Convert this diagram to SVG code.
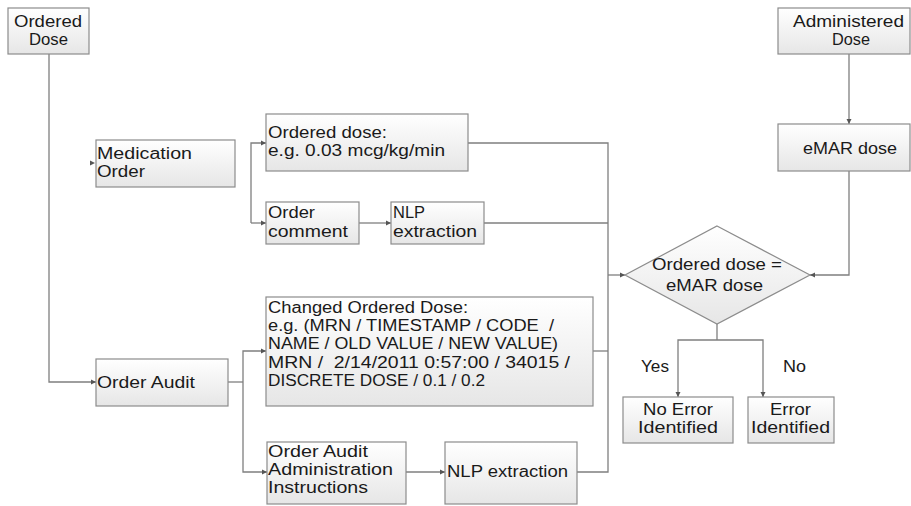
<svg xmlns="http://www.w3.org/2000/svg" width="911" height="506" viewBox="0 0 911 506">
  <style>
    .box { stroke: #8c8c8c; stroke-width: 1.2; fill: url(#boxFill); }
    .line { stroke: #7f7f7f; stroke-width: 1.3; fill: none; }
    .arrow { stroke: #7f7f7f; stroke-width: 1.3; fill: none; marker-end: url(#tip); }
    text { font-family: "Liberation Sans", Arial, sans-serif; font-size: 15.8px; fill: #1a1a1a; }
  </style>
  <defs>
    <linearGradient id="boxFill" x1="0" y1="0" x2="0" y2="1">
      <stop offset="0" stop-color="#ffffff"/>
      <stop offset="1" stop-color="#e6e6e6"/>
    </linearGradient>
    <marker id="tip" markerWidth="6" markerHeight="6" refX="5" refY="3" orient="auto" markerUnits="userSpaceOnUse">
      <path d="M0,0.5 L5,3 L0,5.5 Z" fill="#555555"/>
    </marker>
  </defs>

  <rect width="911" height="506" fill="#ffffff"/>

  <!-- connectors -->
  <g id="connectors">
    <!-- Ordered Dose down to Order Audit -->
    <path class="arrow" d="M49,54 V382 H96"/>
    <!-- stub arrow at Medication Order -->
    <path d="M90,160.5 L95,163 L90,165.5 Z" fill="#555555"/>
    <!-- branch to ordered dose / order comment -->
    <path class="arrow" d="M251,223 V143 H266"/>
    <path class="arrow" d="M251,223 H266"/>
    <path class="arrow" d="M359,223 H391"/>
    <!-- Order Audit branches -->
    <path class="line" d="M228,382 H243"/>
    <path class="arrow" d="M243,382 V351 H266"/>
    <path class="arrow" d="M243,382 V472 H267"/>
    <path class="arrow" d="M406,472 H445"/>
    <!-- collector bus on the right -->
    <path class="line" d="M468,143 H608 V472 H577"/>
    <path class="line" d="M484,223 H608"/>
    <path class="line" d="M593,351 H608"/>
    <path class="arrow" d="M608,275 H625"/>
    <!-- administered dose path -->
    <path class="arrow" d="M849,54 V124"/>
    <path class="arrow" d="M849,171 V275 H810"/>
    <!-- decision outcomes -->
    <path class="line" d="M717,324 V340"/>
    <path class="arrow" d="M717,340 H678 V397"/>
    <path class="arrow" d="M717,340 H763 V397"/>
  </g>

  <g id="ordered-dose-src">
    <rect class="box" x="8" y="8" width="81" height="46"/>
    <text x="14" y="27" textLength="68" lengthAdjust="spacingAndGlyphs">Ordered</text>
    <text x="29" y="45" textLength="39" lengthAdjust="spacingAndGlyphs">Dose</text>
  </g>

  <g id="medication-order">
    <rect class="box" x="96" y="140" width="139" height="47"/>
    <text x="97" y="159" textLength="95" lengthAdjust="spacingAndGlyphs">Medication</text>
    <text x="97" y="177" textLength="48" lengthAdjust="spacingAndGlyphs">Order</text>
  </g>

  <g id="ordered-dose">
    <rect class="box" x="266" y="114" width="202" height="57"/>
    <text x="268" y="138" textLength="119" lengthAdjust="spacingAndGlyphs">Ordered dose:</text>
    <text x="268" y="156" textLength="177" lengthAdjust="spacingAndGlyphs">e.g. 0.03 mcg/kg/min</text>
  </g>

  <g id="order-comment">
    <rect class="box" x="266" y="202" width="93" height="42"/>
    <text x="268" y="218" textLength="47" lengthAdjust="spacingAndGlyphs">Order</text>
    <text x="268" y="237" textLength="80" lengthAdjust="spacingAndGlyphs">comment</text>
  </g>

  <g id="nlp-top">
    <rect class="box" x="391" y="202" width="93" height="42"/>
    <text x="393" y="218" textLength="32" lengthAdjust="spacingAndGlyphs">NLP</text>
    <text x="393" y="237" textLength="84" lengthAdjust="spacingAndGlyphs">extraction</text>
  </g>

  <g id="order-audit">
    <rect class="box" x="96" y="359" width="132" height="47"/>
    <text x="97" y="388" textLength="98" lengthAdjust="spacingAndGlyphs">Order Audit</text>
  </g>

  <g id="changed-dose">
    <rect class="box" x="266" y="297" width="327" height="109"/>
    <text x="268" y="313" textLength="200" lengthAdjust="spacingAndGlyphs">Changed Ordered Dose:</text>
    <text x="268" y="331" textLength="286" lengthAdjust="spacingAndGlyphs" xml:space="preserve">e.g. (MRN / TIMESTAMP / CODE  /</text>
    <text x="268" y="349" textLength="290" lengthAdjust="spacingAndGlyphs">NAME / OLD VALUE / NEW VALUE)</text>
    <text x="268" y="368" textLength="302" lengthAdjust="spacingAndGlyphs" xml:space="preserve">MRN /  2/14/2011 0:57:00 / 34015 /</text>
    <text x="268" y="386" textLength="217" lengthAdjust="spacingAndGlyphs">DISCRETE DOSE / 0.1 / 0.2</text>
  </g>

  <g id="audit-admin">
    <rect class="box" x="267" y="442" width="139" height="62"/>
    <text x="268" y="457" textLength="100" lengthAdjust="spacingAndGlyphs">Order Audit</text>
    <text x="268" y="475" textLength="125" lengthAdjust="spacingAndGlyphs">Administration</text>
    <text x="268" y="493" textLength="100" lengthAdjust="spacingAndGlyphs">Instructions</text>
  </g>

  <g id="nlp-bottom">
    <rect class="box" x="445" y="442" width="132" height="62"/>
    <text x="447" y="477" textLength="121" lengthAdjust="spacingAndGlyphs">NLP extraction</text>
  </g>

  <g id="administered-dose">
    <rect class="box" x="778" y="8" width="132" height="46"/>
    <text x="793" y="27" textLength="111" lengthAdjust="spacingAndGlyphs">Administered</text>
    <text x="832" y="45" textLength="38" lengthAdjust="spacingAndGlyphs">Dose</text>
  </g>

  <g id="emar-dose">
    <rect class="box" x="778" y="124" width="132" height="47"/>
    <text x="803" y="154" textLength="94" lengthAdjust="spacingAndGlyphs">eMAR dose</text>
  </g>

  <g id="decision">
    <polygon class="box" points="717,226 810,275 717,324 625,275"/>
    <text x="652" y="270" textLength="130" lengthAdjust="spacingAndGlyphs">Ordered dose =</text>
    <text x="666" y="291" textLength="97" lengthAdjust="spacingAndGlyphs">eMAR dose</text>
  </g>

  <text x="641" y="372" textLength="28" lengthAdjust="spacingAndGlyphs">Yes</text>
  <text x="783" y="372" textLength="23" lengthAdjust="spacingAndGlyphs">No</text>

  <g id="no-error">
    <rect class="box" x="623" y="397" width="110" height="46"/>
    <text x="643" y="415" textLength="70" lengthAdjust="spacingAndGlyphs">No Error</text>
    <text x="638" y="433" textLength="80" lengthAdjust="spacingAndGlyphs">Identified</text>
  </g>

  <g id="error">
    <rect class="box" x="748" y="397" width="86" height="46"/>
    <text x="770" y="415" textLength="41" lengthAdjust="spacingAndGlyphs">Error</text>
    <text x="751" y="433" textLength="79" lengthAdjust="spacingAndGlyphs">Identified</text>
  </g>
</svg>
